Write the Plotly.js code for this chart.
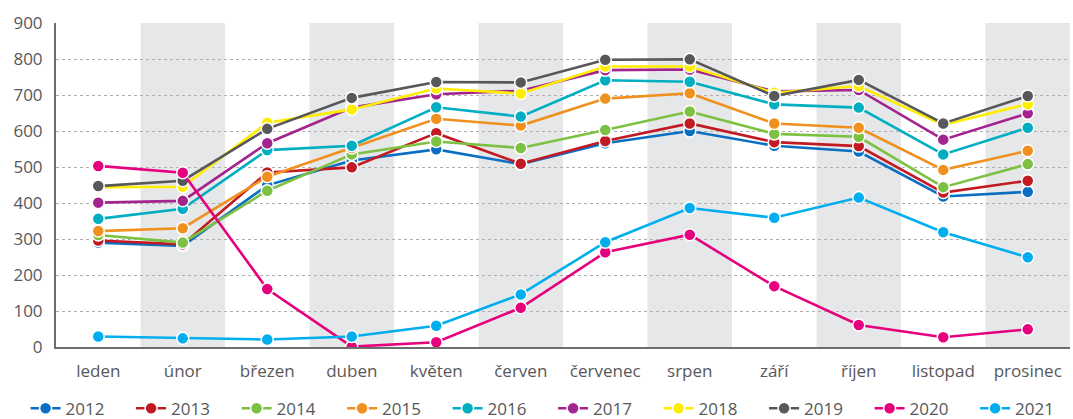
<!DOCTYPE html>
<html>
<head>
<meta charset="utf-8">
<script src="https://cdn.plot.ly/plotly-3.0.1.min.js"></script>
<style>html,body{margin:0;padding:0;background:#fff;}#chart{width:1073px;height:419px;}</style>
</head>
<body>
<div id="chart"></div>
<script>
const months = ["leden","únor","březen","duben","květen","červen","červenec","srpen","září","říjen","listopad","prosinec"];
const years = ["2012","2013","2014","2015","2016","2017","2018","2019","2020","2021"];
const v2012 = [290, 281, 449, 518, 549, 508, 566, 600, 559, 543, 418, 431];
const v2013 = [296, 285, 485, 499, 594, 509, 572, 621, 569, 558, 429, 462];
const v2014 = [311, 290, 434, 535, 571, 553, 603, 654, 592, 584, 444, 508];
const v2015 = [322, 330, 473, 553, 634, 615, 690, 705, 621, 609, 492, 545];
const v2016 = [356, 384, 547, 559, 666, 640, 741, 737, 674, 665, 535, 609];
const v2017 = [401, 406, 566, 665, 702, 712, 769, 771, 710, 714, 576, 649];
const v2018 = [444, 445, 623, 660, 718, 704, 779, 779, 706, 725, 617, 675];
const v2019 = [447, 462, 606, 692, 736, 735, 798, 799, 697, 742, 621, 697];
const v2020 = [503, 484, 161, 1, 13, 109, 263, 312, 169, 61, 27, 49];
const v2021 = [29, 24, 21, 29, 59, 146, 291, 386, 359, 415, 319, 249];
const seriesValues = [v2012, v2013, v2014, v2015, v2016, v2017, v2018, v2019, v2020, v2021];
const colors = ["#0a6fc2","#c21a22","#7cc142","#f0901f","#00aec2","#a3238f","#ffed00","#58585a","#e6007e","#00aeef"];

const traces = years.map((y, i) => ({
  type: "scatter",
  mode: "lines+markers",
  name: y,
  x: months,
  y: seriesValues[i],
  line: {color: colors[i], width: 2.6},
  marker: {color: colors[i], size: 12, line: {color: "#ffffff", width: 1.5}},
  hoverinfo: "skip"
}));

const shapes = months.map((m, i) => i % 2 === 1 ? {
  type: "rect", xref: "x", yref: "paper",
  x0: i - 0.5, x1: i + 0.5, y0: 0, y1: 1,
  fillcolor: "#e6e7e8", line: {width: 0}, layer: "below"
} : null).filter(s => s);

const layout = {
  width: 1073, height: 419,
  margin: {l: 56, r: 3, t: 23, b: 72, autoexpand: false},
  paper_bgcolor: "#ffffff",
  plot_bgcolor: "#ffffff",
  font: {family: "'Open Sans', sans-serif", size: 17, color: "#58585a"},
  showlegend: true,
  legend: {orientation: "h", x: -0.03, xanchor: "left", y: -0.135, yanchor: "top",
           font: {size: 17, color: "#58585a"}, entrywidth: 60.5, itemwidth: 30, traceorder: "normal"},
  xaxis: {
    type: "category", categoryorder: "array", categoryarray: months,
    range: [-0.5, 11.5], showgrid: false, zeroline: false,
    showline: true, linecolor: "#6d6e70", linewidth: 2,
    ticks: "", ticklabelstandoff: 8, tickfont: {size: 17, color: "#58585a"}, fixedrange: true
  },
  yaxis: {
    range: [0, 900], dtick: 100, tick0: 0,
    showgrid: true, gridcolor: "#b0b0b0", griddash: "dot", gridwidth: 1,
    zeroline: false, showline: true, linecolor: "#6d6e70", linewidth: 2,
    ticks: "", ticklabelstandoff: 8, tickfont: {size: 17, color: "#58585a"}, fixedrange: true
  },
  shapes: shapes
};

Plotly.newPlot("chart", traces, layout, {displayModeBar: false, staticPlot: true});
</script>
</body>
</html>
